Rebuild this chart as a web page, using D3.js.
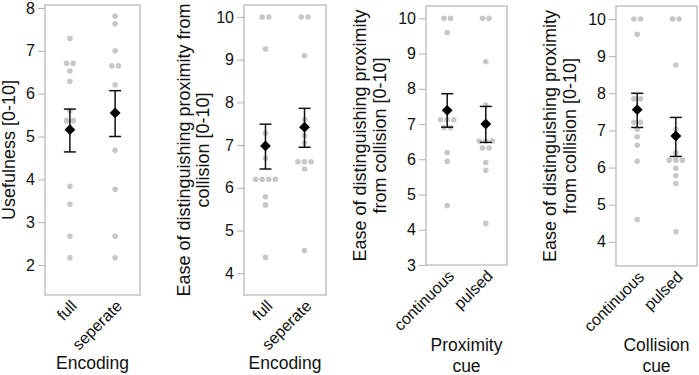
<!DOCTYPE html>
<html>
<head>
<meta charset="utf-8">
<script src="https://cdn.jsdelivr.net/npm/d3@7"></script>
<style>
  body { margin: 0; background: #fff; }
  svg { font-family: "Liberation Sans", Arial, sans-serif; }
</style>
</head>
<body>
<div id="vis"></div>
<script>
// values
const encodingCats = ['full', 'seperate']
const cueCats = ['continuous', 'pulsed']

const usefulFull = [7.29, 6.71, 6.71, 6.53, 6.29, 5.6, 5.37, 5.37, 3.84, 3.42, 2.67, 2.17]
const usefulSep = [7.81, 7.63, 7.0, 6.65, 6.65, 6.21, 4.68, 3.77, 2.67, 2.17]
const usefulMean = [5.16, 5.55]
const usefulLo = [4.64, 5.0]
const usefulHi = [5.64, 6.07]

const easeFull = [10, 10, 9.25, 7.28, 6.69, 6.2, 6.2, 6.2, 6.2, 5.79, 5.6, 4.37]
const easeSep = [10, 10, 9.09, 7.6, 7.22, 7.05, 6.61, 6.61, 6.61, 6.44, 4.53]
const easeMean = [6.98, 7.42]
const easeLo = [6.44, 6.95]
const easeHi = [7.49, 7.86]

const proxCont = [10, 10, 9.6, 7.12, 7.12, 7.12, 6.9, 6.9, 6.19, 5.94, 4.69]
const proxPulsed = [10, 10, 8.77, 7.54, 6.52, 6.52, 6.52, 6.32, 6.32, 5.91, 5.69, 4.18]
const proxMean = [7.39, 7.0]
const proxLo = [6.91, 6.48]
const proxHi = [7.86, 7.5]

const collCont = [10, 10, 9.59, 7.85, 7.85, 7.22, 7.22, 7.03, 6.83, 6.6, 6.17, 4.6]
const collPulsed = [10, 10, 8.76, 7.03, 6.4, 6.2, 6.2, 6.2, 5.98, 5.78, 5.57, 4.27]
const collMean = [7.56, 6.85]
const collLo = [7.08, 6.3]
const collHi = [8.0, 7.35]

const ticksA = [2, 3, 4, 5, 6, 7, 8]
const ticksB = [4, 5, 6, 7, 8, 9, 10]
const ticksC = [3, 4, 5, 6, 7, 8, 9, 10]

// panel layout
const panels = [
  { x0: 45, x1: 140, y0: 5, y1: 295, dom: [1.3, 8.07], ticks: ticksA, cats: encodingCats,
    groups: [usefulFull, usefulSep], mean: usefulMean, lo: usefulLo, hi: usefulHi,
    ylab: ['Usefulness [0-10]'], ylabX: [15], xlab: ['Encoding'], xlabY: [369] },
  { x0: 244, x1: 326, y0: 5, y1: 295, dom: [3.49, 10.28], ticks: ticksB, cats: encodingCats,
    groups: [easeFull, easeSep], mean: easeMean, lo: easeLo, hi: easeHi,
    ylab: ['Ease of distinguishing proximity from', 'collision [0-10]'], ylabX: [190, 209],
    xlab: ['Encoding'], xlabY: [369] },
  { x0: 426, x1: 507, y0: 6, y1: 265, dom: [3, 10.35], ticks: ticksC, cats: cueCats,
    groups: [proxCont, proxPulsed], mean: proxMean, lo: proxLo, hi: proxHi,
    ylab: ['Ease of distinguishing proximity', 'from collision [0-10]'], ylabX: [366, 386],
    xlab: ['Proximity', 'cue'], xlabY: [351, 372] },
  { x0: 616, x1: 697, y0: 6, y1: 266, dom: [3.35, 10.35], ticks: ticksB, cats: cueCats,
    groups: [collCont, collPulsed], mean: collMean, lo: collLo, hi: collHi,
    ylab: ['Ease of distinguishing proximity', 'from collision [0-10]'], ylabX: [556, 576],
    xlab: ['Collision', 'cue'], xlabY: [351, 372] }
]

const svg = d3.select('#vis').append('svg')
  .attr('width', 699)
  .attr('height', 375)

panels.forEach(p => {
  const y = d3.scaleLinear().domain(p.dom).range([p.y1, p.y0])
  const x = d3.scalePoint().domain(p.cats).range([p.x0, p.x1]).padding(0.55)
  const g = svg.append('g')

  // frame
  g.append('rect')
    .attr('x', p.x0).attr('y', p.y0)
    .attr('width', p.x1 - p.x0).attr('height', p.y1 - p.y0)
    .attr('fill', 'none').attr('stroke', '#b4b4b4').attr('stroke-width', 1.2)

  // y axis
  const yAxis = g.append('g')
    .attr('transform', `translate(${p.x0},0)`)
    .call(d3.axisLeft(y).tickValues(p.ticks).tickFormat(d3.format('d')).tickSize(7).tickPadding(3))
  yAxis.select('.domain').remove()
  yAxis.selectAll('.tick line').attr('stroke', '#b4b4b4')
  yAxis.selectAll('.tick text').attr('font-size', 16).attr('fill', '#111')
    .attr('font-family', '"Liberation Sans", Arial, sans-serif')

  // x tick labels, rotated
  g.selectAll('.xt')
    .data(p.cats)
    .enter()
    .append('text')
    .attr('class', 'xt')
    .attr('transform', d => `translate(${x(d) + 8},${p.y1 + 12}) rotate(-45)`)
    .attr('text-anchor', 'end')
    .attr('font-size', 16)
    .attr('fill', '#111')
    .text(d => d)

  // points, equal values dodged side by side
  p.groups.forEach((vals, i) => {
    const counts = d3.rollup(vals, v => v.length, v => v)
    const seen = new Map()
    const pts = vals.map(v => {
      const n = counts.get(v)
      const k = seen.get(v) || 0
      seen.set(v, k + 1)
      return { v: v, dx: (k - (n - 1) / 2) * 6.6 }
    })
    g.selectAll('.pt' + i)
      .data(pts)
      .enter()
      .append('circle')
      .attr('cx', d => x(p.cats[i]) + d.dx)
      .attr('cy', d => y(d.v))
      .attr('r', 2.8)
      .attr('fill', '#c8c8c8')
  })

  // error bars and mean diamonds
  p.cats.forEach((c, i) => {
    const cx = x(c)
    g.append('line')
      .attr('x1', cx).attr('x2', cx)
      .attr('y1', y(p.lo[i])).attr('y2', y(p.hi[i]))
      .attr('stroke', '#111').attr('stroke-width', 1.5)
    ;[p.lo[i], p.hi[i]].forEach(v => {
      g.append('line')
        .attr('x1', cx - 6).attr('x2', cx + 6)
        .attr('y1', y(v)).attr('y2', y(v))
        .attr('stroke', '#111').attr('stroke-width', 1.5)
    })
    g.append('path')
      .attr('d', d3.symbol().type(d3.symbolDiamond2).size(75))
      .attr('transform', `translate(${cx},${y(p.mean[i])})`)
      .attr('fill', '#000')
  })

  // axis titles
  const cy = (p.y0 + p.y1) / 2
  p.ylab.forEach((t, i) => {
    g.append('text')
      .attr('transform', `translate(${p.ylabX[i]},${cy}) rotate(-90)`)
      .attr('text-anchor', 'middle')
      .attr('font-size', 18)
      .attr('fill', '#111')
      .text(t)
  })
  p.xlab.forEach((t, i) => {
    g.append('text')
      .attr('x', (p.x0 + p.x1) / 2)
      .attr('y', p.xlabY[i])
      .attr('text-anchor', 'middle')
      .attr('font-size', 17.5)
      .attr('fill', '#111')
      .text(t)
  })
})
</script>
</body>
</html>
